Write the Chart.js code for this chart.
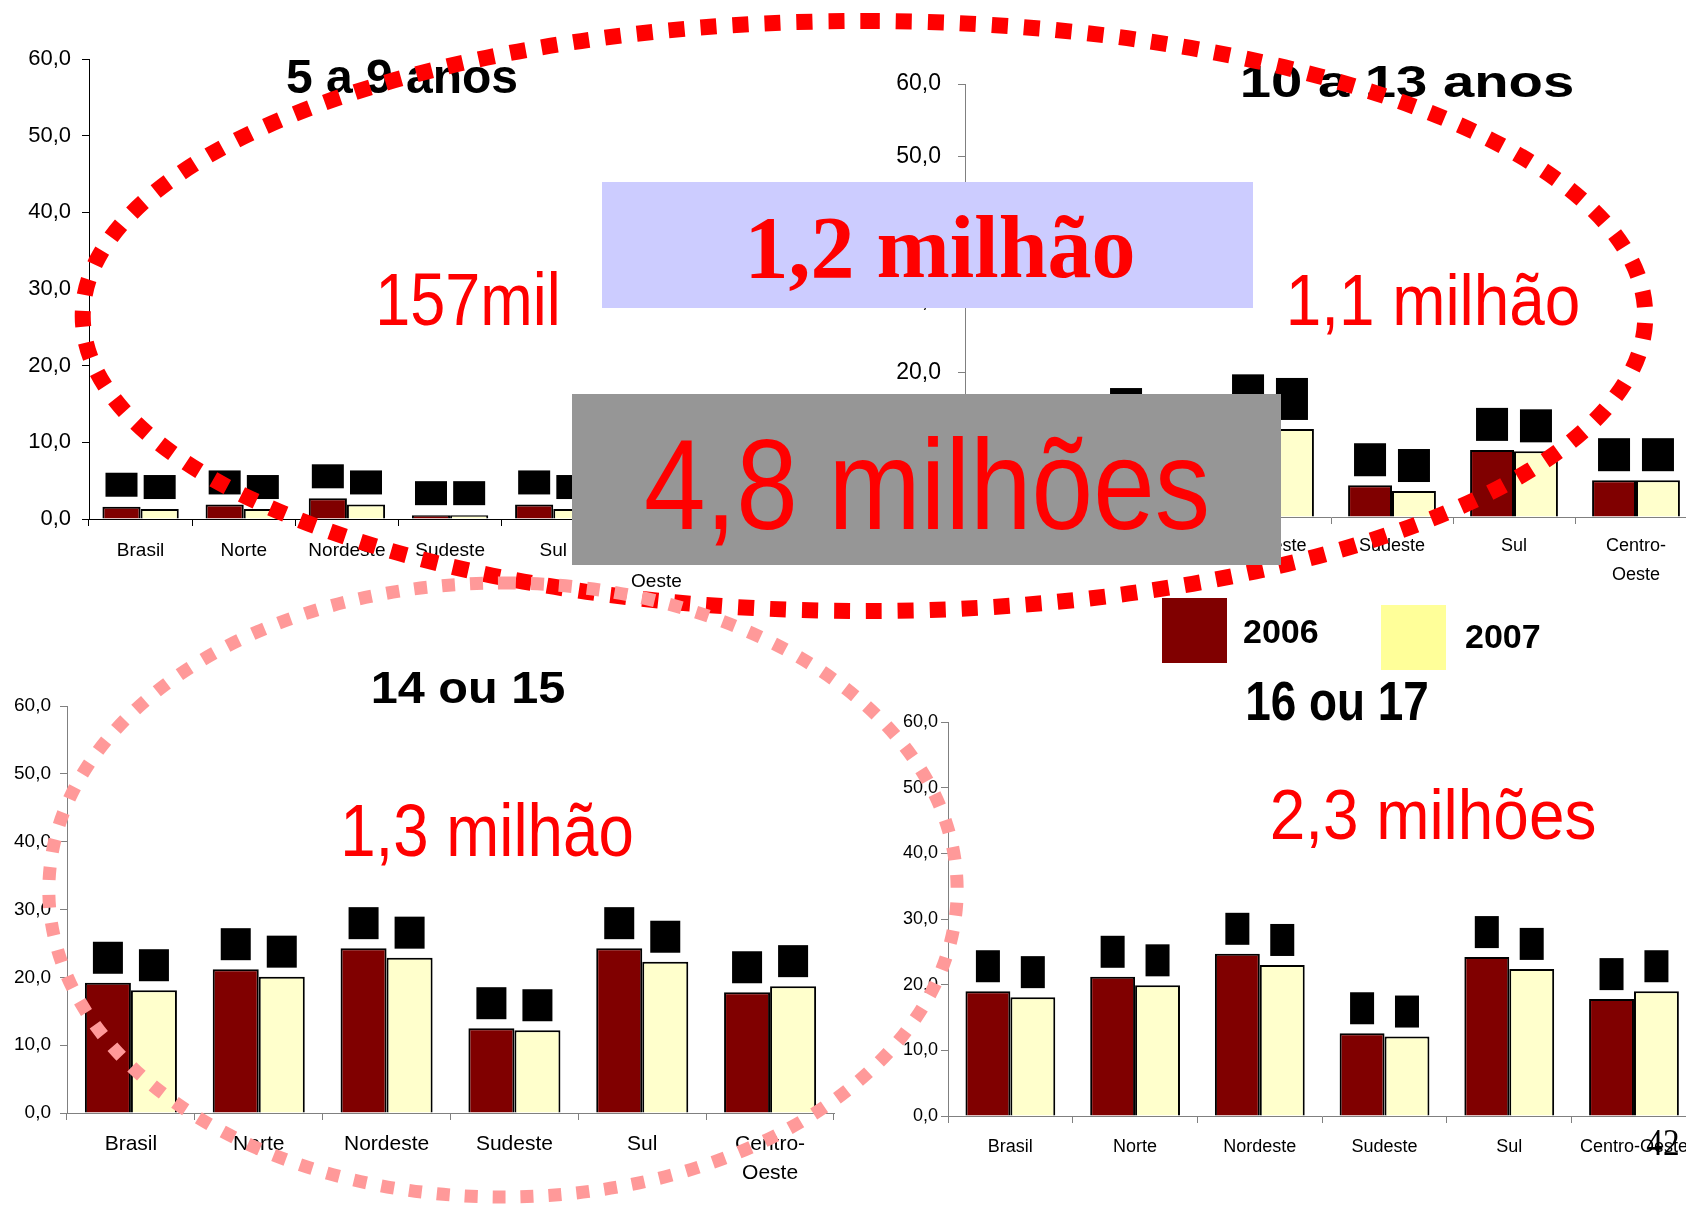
<!DOCTYPE html>
<html lang="pt-BR">
<head>
<meta charset="utf-8">
<title>Trabalho infantil por faixa de idade</title>
<script src="https://cdn.jsdelivr.net/npm/chart.js@4.4.1/dist/chart.umd.min.js"></script>
<style>
    html, body { margin: 0; padding: 0; background: #fff; }
    #palco { position: relative; width: 1686px; height: 1208px; overflow: hidden; background: #fff; }
    .grafico { position: absolute; }
    #sobreposicao { position: absolute; left: 0; top: 0; }
</style>
</head>
<body>
<div id="palco">
    <canvas id="g1" class="grafico"></canvas>
    <canvas id="g2" class="grafico"></canvas>
    <canvas id="g3" class="grafico"></canvas>
    <canvas id="g4" class="grafico"></canvas>

    <svg id="sobreposicao" width="1686" height="1208" font-family="'Liberation Sans', Arial, sans-serif">
        <!-- titulos dos graficos -->
        <g font-weight="bold" fill="#000" text-anchor="middle">
            <text transform="translate(402,93)" font-size="48">5 a 9 anos</text>
            <text transform="translate(1407,97) scale(1.25,1)" font-size="45">10 a 13 anos</text>
            <text transform="translate(468,703) scale(1.08,1)" font-size="45">14 ou 15</text>
            <text transform="translate(1337,720) scale(0.82,1)" font-size="56">16 ou 17</text>
        </g>

        <!-- legenda -->
        <rect x="1162" y="598" width="65" height="65" fill="#800000"/>
        <text x="1243" y="643" font-size="34" font-weight="bold" fill="#000">2006</text>
        <rect x="1381" y="605" width="65" height="65" fill="#FFFF99"/>
        <text x="1465" y="648" font-size="34" font-weight="bold" fill="#000">2007</text>

        <!-- elipses pontilhadas -->
        <path d="M 864 21 A 781 295 0 1 1 864 611 A 781 295 0 1 1 864 21"
              fill="none" stroke="#FF0000" stroke-width="16" stroke-dasharray="16 16"/>
        <path d="M 503 583 A 454 307 0 1 1 503 1197 A 454 307 0 1 1 503 583"
              fill="none" stroke="#FF9999" stroke-width="13" stroke-dasharray="13 15"/>

        <!-- caixas de destaque -->
        <rect x="602" y="182" width="651" height="126" fill="#CCCCFF"/>
        <text x="940" y="277" text-anchor="middle" font-family="'Liberation Serif', 'Times New Roman', serif"
              font-size="88" font-weight="bold" fill="#FF0000">1,2 milhão</text>
        <rect x="572" y="394" width="709" height="171" fill="#969696"/>
        <text transform="translate(927,529) scale(0.865,1)" text-anchor="middle" font-size="128" fill="#FF0000">4,8 milhões</text>

        <!-- totais por faixa -->
        <g fill="#FF0000" text-anchor="middle">
            <text transform="translate(468,325) scale(0.84,1)" font-size="75">157mil</text>
            <text transform="translate(1433,325) scale(0.875,1)" font-size="73">1,1 milhão</text>
            <text transform="translate(487,856) scale(0.86,1)" font-size="74">1,3 milhão</text>
            <text transform="translate(1433,839) scale(0.9,1)" font-size="71">2,3 milhões</text>
        </g>

        <!-- numero do slide -->
        <text transform="translate(1663,1155) scale(0.9,1)" text-anchor="middle"
              font-family="'Liberation Serif', 'Times New Roman', serif" font-size="37" fill="#000">42</text>
    </svg>
</div>

<script>
// Dados
const regioes = ['Brasil', 'Norte', 'Nordeste', 'Sudeste', 'Sul', 'Centro-Oeste'];
const escalaY = [0, 10, 20, 30, 40, 50, 60];

// 5 a 9 anos
const idade5a9_2006 = [1.6, 1.9, 2.7, 0.5, 1.9, 1.5];
const idade5a9_2007 = [1.3, 1.3, 1.9, 0.5, 1.3, 1.3];

// 10 a 13 anos
const idade10a13_2006 = [8.3, 10.8, 12.7, 4.4, 9.3, 5.1];
const idade10a13_2007 = [7.6, 9.6, 12.2, 3.6, 9.1, 5.1];

// 14 ou 15 anos
const idade14ou15_2006 = [19.2, 21.2, 24.3, 12.5, 24.3, 17.8];
const idade14ou15_2007 = [18.1, 20.1, 22.9, 12.2, 22.3, 18.7];

// 16 ou 17 anos
const idade16ou17_2006 = [19.0, 21.2, 24.7, 12.6, 24.2, 17.8];
const idade16ou17_2007 = [18.1, 19.9, 23.0, 12.1, 22.4, 19.0];

const FONTE = "'Liberation Sans', Arial, sans-serif";

// "Centro-Oeste" quebrado em duas linhas
function rotulosEmDuasLinhas(lista) {
    return lista.map(r => r.includes('-') ? [r.split('-')[0] + '-', r.split('-')[1]] : r);
}

function formatarValor(v) {
    return v.toFixed(1).replace('.', ',');
}

// Os rotulos de dados aparecem como blocos pretos acima das barras
function caixasPretas(c) {
    return {
        id: 'caixasPretas',
        afterDatasetsDraw(chart) {
            const ctx = chart.ctx;
            ctx.save();
            ctx.fillStyle = '#000';
            chart.data.datasets.forEach((ds, i) => {
                chart.getDatasetMeta(i).data.forEach((barra, j) => {
                    let h = ds.data[j] >= 10 ? c.hAlta : c.h;
                    ctx.fillRect(barra.x - c.w / 2, barra.y - c.gap - h, c.w, h);
                });
            });
            ctx.restore();
        }
    };
}

function criarGrafico(id, cfg) {
    let cv = document.getElementById(id);
    cv.width = cfg.w;
    cv.height = cfg.h;
    cv.style.left = cfg.x + 'px';
    cv.style.top = cfg.y + 'px';
    cv.style.width = cfg.w + 'px';
    cv.style.height = cfg.h + 'px';

    return new Chart(cv.getContext('2d'), {
        type: 'bar',
        data: {
            labels: cfg.rotulos,
            datasets: [
                { label: '2006', data: cfg.d2006, backgroundColor: '#800000', borderColor: '#000',
                  borderWidth: 2, categoryPercentage: cfg.cat, barPercentage: 1.0 },
                { label: '2007', data: cfg.d2007, backgroundColor: '#FFFFCC', borderColor: '#000',
                  borderWidth: 2, categoryPercentage: cfg.cat, barPercentage: 1.0 }
            ]
        },
        options: {
            responsive: false,
            animation: false,
            layout: { padding: { top: cfg.padTop, right: cfg.padRight, left: 0, bottom: 0 } },
            plugins: { legend: { display: false }, tooltip: { enabled: false } },
            scales: {
                x: {
                    grid: { display: true, drawOnChartArea: false, drawTicks: true, tickLength: 7, color: cfg.eixo, offset: true },
                    border: { display: true, color: cfg.eixo, width: 1 },
                    ticks: { color: '#000', padding: cfg.xPad, maxRotation: 0, autoSkip: false,
                             font: { family: FONTE, size: cfg.xFonte, lineHeight: cfg.xLinha / cfg.xFonte } },
                    afterFit: s => { s.height = cfg.xH; }
                },
                y: {
                    min: escalaY[0],
                    max: escalaY[escalaY.length - 1],
                    grid: { drawOnChartArea: false, drawTicks: true, tickLength: 7, color: cfg.eixo },
                    border: { display: true, color: cfg.eixo, width: 1 },
                    ticks: { stepSize: escalaY[1] - escalaY[0], color: '#000', padding: cfg.yPad,
                             font: { family: FONTE, size: cfg.yFonte }, callback: v => formatarValor(v) },
                    afterFit: s => { s.width = cfg.yW; }
                }
            }
        },
        plugins: [caixasPretas(cfg.caixa)]
    });
}

window.onload = function() {
    criarGrafico('g1', {
        x: 0, y: 0, w: 712, h: 609, yW: 89, padTop: 59, padRight: 4, xH: 90, cat: 0.74,
        yFonte: 22, yPad: 11, xFonte: 19, xLinha: 31, xPad: 9.5, eixo: '#000',
        rotulos: rotulosEmDuasLinhas(regioes), d2006: idade5a9_2006, d2007: idade5a9_2007,
        caixa: { w: 32, h: 24, hAlta: 24, gap: 10 }
    });
    criarGrafico('g2', {
        x: 885, y: 0, w: 812, h: 607, yW: 80, padTop: 84, padRight: 0, xH: 90, cat: 0.72,
        yFonte: 23, yPad: 17, xFonte: 18, xLinha: 29, xPad: 7.5, eixo: '#808080',
        rotulos: rotulosEmDuasLinhas(regioes), d2006: idade10a13_2006, d2007: idade10a13_2007,
        caixa: { w: 32, h: 33, hAlta: 42, gap: 9 }
    });
    criarGrafico('g3', {
        x: 0, y: 640, w: 838, h: 568, yW: 67, padTop: 66, padRight: 4, xH: 95, cat: 0.72,
        yFonte: 19, yPad: 9, xFonte: 21, xLinha: 29, xPad: 9.5, eixo: '#808080',
        rotulos: rotulosEmDuasLinhas(regioes), d2006: idade14ou15_2006, d2007: idade14ou15_2007,
        caixa: { w: 30, h: 32, hAlta: 32, gap: 9 }
    });
    criarGrafico('g4', {
        x: 860, y: 640, w: 838, h: 568, yW: 88, padTop: 82, padRight: 0, xH: 92, cat: 0.72,
        yFonte: 18, yPad: 3, xFonte: 18, xLinha: 28, xPad: 10, eixo: '#808080',
        rotulos: regioes, d2006: idade16ou17_2006, d2007: idade16ou17_2007,
        caixa: { w: 24, h: 32, hAlta: 32, gap: 9 }
    });
};
</script>
</body>
</html>
